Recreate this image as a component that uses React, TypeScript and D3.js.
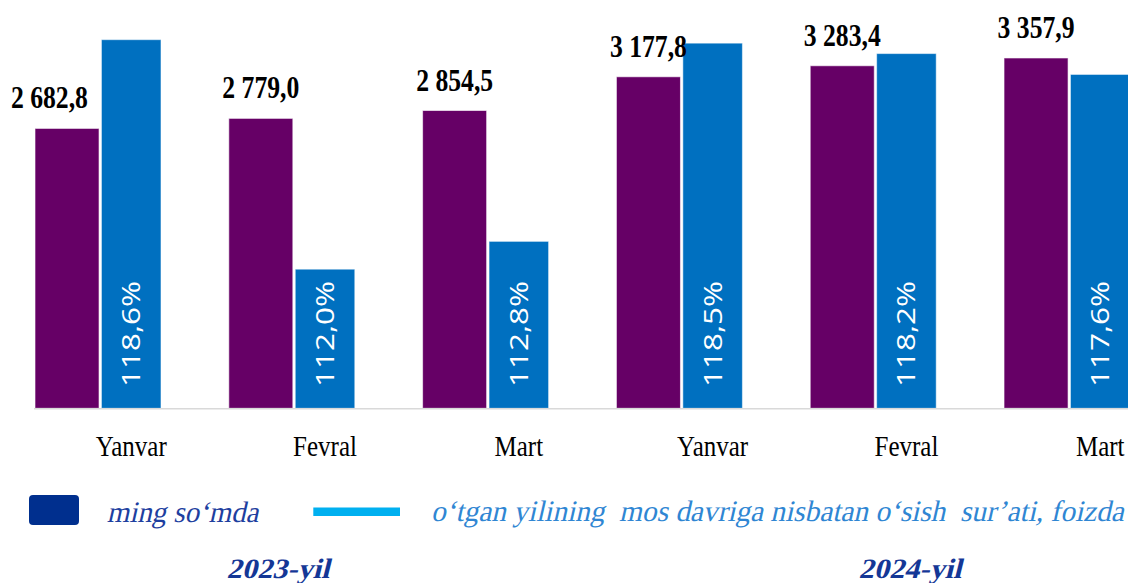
import React from 'react';
import * as d3 from 'd3';

// ---- data ----
const categories = ['Yanvar', 'Fevral', 'Mart', 'Yanvar', 'Fevral', 'Mart'];
const amounts = [2682.8, 2779.0, 2854.5, 3177.8, 3283.4, 3357.9]; // ming so‘mda
const growth = [118.6, 112.0, 112.8, 118.5, 118.2, 117.6]; // foizda
const seriesNames = ['ming so‘mda', 'o‘tgan yilining  mos davriga nisbatan o‘sish  sur’ati, foizda'];
const years = ['2023-yil', '2024-yil'];
const amountDomain = [0, 4000];
const growthDomain = [108, 120];

// ---- layout ----
const W = 1128;
const H = 583;
const baseY = 408.3;
const topY = -9;
const PURPLE = '#660066';
const BLUE = '#0070c0';
const yearX = [278, 910];

const locale = d3.formatLocale({ decimal: ',', thousands: ' ', grouping: [3], currency: ['', ''] });
const fmtAmount = locale.format(',.1f');
const fmtGrowth = (v: number) => locale.format('.1f')(v) + '%';

export default function App() {
  const idx = categories.map((_, i) => i);
  const x = d3.scaleBand<number>().domain(idx).range([35, 1130]).paddingInner(0.35).paddingOuter(0);
  const bw = x.bandwidth();
  const inner = d3.scaleBand<string>().domain(['a', 'b']).range([0, bw]).paddingInner(0.03);
  const purpleW = inner.bandwidth() + 2;
  const blueOff = inner('b')! + 2.5;
  const blueW = bw - blueOff;
  const yA = d3.scaleLinear().domain(amountDomain).range([baseY, topY]);
  const yG = d3.scaleLinear().domain(growthDomain).range([baseY, topY]);

  const serif = '"Liberation Serif", "Times New Roman", serif';

  return (
    <svg width={W} height={H} style={{ position: 'absolute', left: 0, top: 0, background: '#fff' }}>
      <defs>
        <clipPath id="xlabclip">
          <rect x={0} y={420} width={W} height={36} />
        </clipPath>
      </defs>
      <rect x={0} y={0} width={W} height={H} fill="#fff" />
      {/* bars */}
      {idx.map((i) => {
        const x0 = x(i)!;
        const pTop = yA(amounts[i]);
        const gTop = yG(growth[i]);
        return (
          <g key={i}>
            <rect x={x0} y={pTop} width={purpleW} height={baseY - pTop} fill={PURPLE} stroke="#ffffff" strokeOpacity={0.6} strokeWidth={1} />
            <rect x={x0 + blueOff} y={gTop} width={blueW} height={baseY - gTop} fill={BLUE} stroke="#ffffff" strokeOpacity={0.5} strokeWidth={1} />
          </g>
        );
      })}
      {/* axis line */}
      <line x1={34} x2={W} y1={baseY + 0.5} y2={baseY + 0.5} stroke="#d9d9d9" strokeWidth={1.5} />
      {/* value labels above purple bars */}
      {idx.map((i) => {
        const x0 = x(i)!;
        const pTop = yA(amounts[i]);
        const gTop = yG(growth[i]);
        const besideBlue = pTop - gTop > 60;
        const cx = besideBlue ? x0 + blueOff - 13 - 39 : x0 + purpleW / 2;
        const by = pTop - 20;
        return (
          <text
            key={i}
            transform={`translate(${cx},${by}) scale(1,1.2)`}
            textAnchor="middle"
            fontFamily={serif}
            fontWeight="bold"
            fontSize={26}
            textLength={77}
            lengthAdjust="spacingAndGlyphs"
            fill="#000"
          >
            {fmtAmount(amounts[i])}
          </text>
        );
      })}
      {/* rotated growth labels */}
      {idx.map((i) => {
        const cx = x(i)! + blueOff + blueW / 2;
        return (
          <text
            key={i}
            transform={`translate(${cx + 9},${387}) rotate(-90)`}
            textAnchor="start"
            fontFamily='"Open Sans", "DejaVu Sans", sans-serif'
            fontWeight={400}
            fontSize={25}
            textLength={106}
            lengthAdjust="spacingAndGlyphs"
            fill="#ffffff"
          >
            {fmtGrowth(growth[i])}
          </text>
        );
      })}
      {/* x labels */}
      <g clipPath="url(#xlabclip)">
        {idx.map((i) => {
          const cx = x(i)! + blueOff + blueW / 2;
          return (
            <text
              key={i}
              transform={`translate(${cx},${455.5}) scale(1,1.18)`}
              textAnchor="middle"
              fontFamily={serif}
              fontSize={25}
              fill="#000"
            >
              {categories[i]}
            </text>
          );
        })}
      </g>
      {/* legend */}
      <rect x={29} y={495} width={50} height={30} rx={4} fill="#002f8e" />
      <text
        transform={`translate(106.7,521.5) scale(1,1.1) skewX(-14)`}
        fontFamily={serif}
        fontSize={27}
        textLength={151.6}
        lengthAdjust="spacingAndGlyphs"
        fill="#1e3f9f"
      >
        {seriesNames[0]}
      </text>
      <line x1={313.3} x2={400} y1={511.7} y2={511.7} stroke="#00b0f0" strokeWidth={8.5} />
      <text
        transform={`translate(431,521) scale(1,1.1) skewX(-14)`}
        fontFamily={serif}
        fontSize={27}
        textLength={692.7}
        lengthAdjust="spacingAndGlyphs"
        fill="#2f86d3"
        style={{ whiteSpace: 'pre' }}
      >
        {seriesNames[1]}
      </text>
      {/* years */}
      {years.map((yr, k) => (
        <text
          key={yr}
          transform={`translate(${yearX[k]},578.3) skewX(-14)`}
          textAnchor="middle"
          fontFamily={serif}
          fontWeight="bold"
          fontSize={28}
          textLength={103}
          lengthAdjust="spacingAndGlyphs"
          fill="#143796"
        >
          {yr}
        </text>
      ))}
    </svg>
  );
}
